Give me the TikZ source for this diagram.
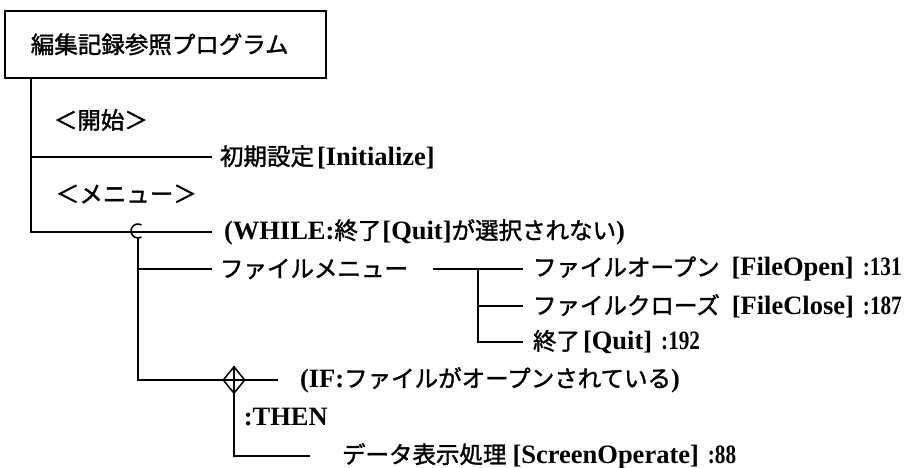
\documentclass[tikz,border=0pt]{standalone}
\usepackage{fontspec}
\setmainfont{Liberation Serif}
\newfontfamily\jpfont[RawFeature={embolden=1.5}]{Noto Sans CJK JP}
\newfontfamily\numfont[FakeStretch=0.8]{Liberation Serif}
\newcommand{\J}[1]{{\jpfont\mdseries\fontsize{23.5}{27}\selectfont #1}}
\newcommand{\N}[1]{{\numfont\bfseries #1}}
\usetikzlibrary{shapes.geometric}
\begin{document}
\begin{tikzpicture}[x=1pt,y=-1pt,line width=1.7pt,
  txt/.style={anchor=west,inner sep=0pt,font=\fontsize{26.5}{30}\selectfont\bfseries},
  lbl/.style={txt,outer xsep=8pt},
  titlebox/.style={draw,line width=1.7pt,anchor=north west,minimum width=321pt,minimum height=67pt,
    text width=269pt,inner xsep=26pt,inner ysep=0pt,align=left},
  cond/.style={diamond,draw,line width=1.5pt,minimum width=22pt,minimum height=27pt,inner sep=0pt}]
\useasboundingbox (0,0) rectangle (915,468);

% title
\node[titlebox] (title) at (4,10) {\J{編集記録参照プログラム}};

% main sequence
\coordinate (m0) at ([xshift=27pt]title.south west);
\coordinate (m1) at (31,157);
\node[txt] (start) at (53,120) {\J{＜開始＞}};
\node[lbl] (init) at (212,157) {\J{初期設定}\hspace{3pt}[Initialize]};
\node[txt] (menu) at (55,194) {\J{＜メニュー＞}};
\node[lbl,outer xsep=12pt] (while) at (212,232) {(WHILE:\J{終了}\hspace{1pt}[Quit]\J{が選択されない})};
\draw (m0) |- (while.west);
\draw (m1) -- (init.west);

% loop symbol
\coordinate (cc) at (138,231);
\draw[line width=1.6pt] ([shift={(60:7pt)}]cc) arc[start angle=60,end angle=300,radius=7pt];
\coordinate (cb) at (138,238);

% file menu
\coordinate (c1) at (138,269);
\node[lbl] (fm) at (212,269) {\J{ファイルメニュー}};
\draw (c1) -- (fm.west);
\coordinate (s0) at (433,269);
\coordinate (j1) at (478,269);
\coordinate (j2) at (478,306);
\node[lbl,outer xsep=10pt] (fo) at (523,269) {\J{ファイルオープン}\hspace{12pt}[FileOpen]\hspace{9pt}\N{:131}};
\node[lbl,outer xsep=10pt] (fc) at (523,306) {\J{ファイルクローズ}\hspace{12pt}[FileClose]\hspace{9pt}\N{:187}};
\node[lbl,outer xsep=10pt] (fq) at (523,342) {\J{終了}\hspace{3pt}[Quit]\hspace{9pt}\N{:192}};
\draw (s0) -- (fo.west);
\draw (j1) |- (fq.west);
\draw (j2) -- (fc.west);

% if
\node[cond] (ifd) at (234,380) {};
\draw (cb) |- (ifd.west);
\draw[line width=1.4pt] (ifd.north) -- (ifd.south);
\draw[line width=1.4pt] (ifd.west) -- (ifd.east);
\node[lbl,outer xsep=22pt] (ift) at (278,380) {(IF:\J{ファイルがオープンされている})};
\draw (ifd.east) -- (ift.west);
\node[txt] (then) at (243,417) {:THEN};
\node[lbl,outer xsep=32pt] (data) at (310,456) {\J{データ表示処理}\hspace{6pt}[ScreenOperate]\hspace{9pt}\N{:88}};
\draw (ifd.south) |- (data.west);
\end{tikzpicture}
\end{document}
